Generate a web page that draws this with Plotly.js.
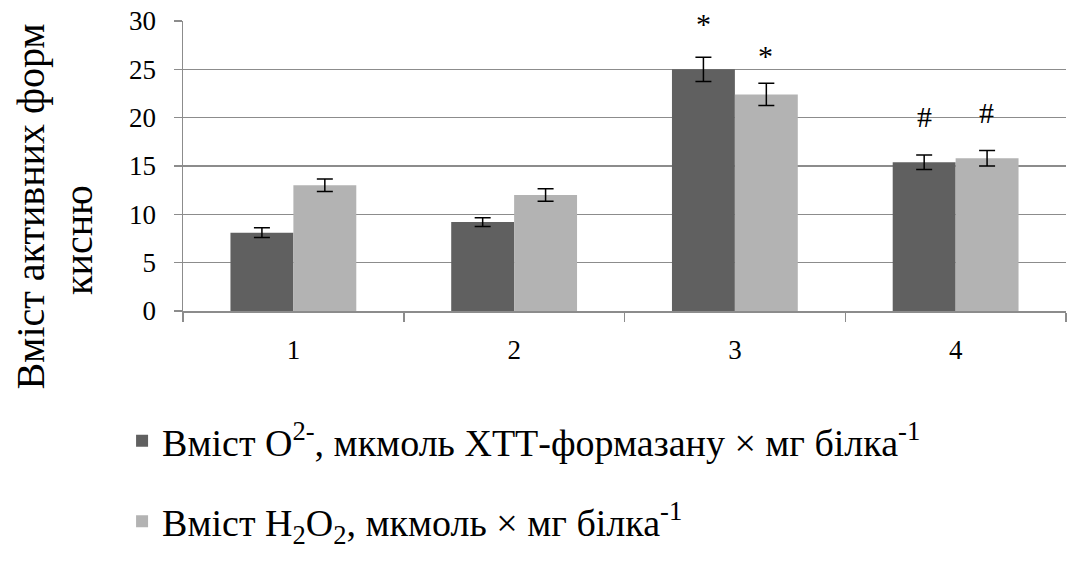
<!DOCTYPE html>
<html>
<head>
<meta charset="utf-8">
<script src="https://cdn.plot.ly/plotly-3.0.1.min.js"></script>
</head>
<body style="margin:0;background:#fff">
<div id="chart" style="width:1067px;height:570px"></div>
<script>
const categories = ['1', '2', '3', '4'];
const o2Values = [8.1, 9.2, 25.0, 15.4];
const o2Errors = [0.5, 0.45, 1.25, 0.75];
const h2o2Values = [13.0, 12.0, 22.4, 15.8];
const h2o2Errors = [0.65, 0.65, 1.15, 0.8];
const o2Marks = ['', '', '*', '#'];
const h2o2Marks = ['', '', '*', '#'];
const seriesNames = [
  'Вміст O<sup>2-</sup>, мкмоль ХТТ-формазану × мг білка<sup>-1</sup>',
  'Вміст H<sub>2</sub>O<sub>2</sub>, мкмоль × мг білка<sup>-1</sup>'
];
const yTitleLine1 = 'Вміст активних форм';
const yTitleLine2 = 'кисню';

const FONT = 'Liberation Serif';

const traces = [
  {
    type: 'bar', x: categories, y: o2Values, name: seriesNames[0],
    marker: {color: '#606060'},
    error_y: {type: 'data', array: o2Errors, visible: true, color: '#000', thickness: 1.5, width: 8},
    legendgroup: 'a'
  },
  {
    type: 'bar', x: categories, y: h2o2Values, name: seriesNames[1],
    marker: {color: '#b3b3b3'},
    error_y: {type: 'data', array: h2o2Errors, visible: true, color: '#000', thickness: 1.5, width: 8},
    legendgroup: 'b'
  }
];

const annotations = [];
function addMarks(marks, vals, errs, shift, starLift) {
  marks.forEach((m, i) => {
    if (!m) return;
    annotations.push({
      x: i, y: vals[i] + errs[i], xref: 'x', yref: 'y',
      text: m, showarrow: false, xshift: shift, yshift: m === '*' ? starLift : 38,
      yanchor: 'middle',
      font: {family: FONT, size: 30, color: '#000'}
    });
  });
}
addMarks(o2Marks, o2Values, o2Errors, -31, 34);
addMarks(h2o2Marks, h2o2Values, h2o2Errors, 31, 28);

annotations.push({
  xref: 'paper', yref: 'paper', x: 0, y: 0.36, xshift: -152, xanchor: 'center', yanchor: 'middle',
  text: yTitleLine1, textangle: -90, showarrow: false,
  font: {family: FONT, size: 40, color: '#000'}
});
annotations.push({
  xref: 'paper', yref: 'paper', x: 0, y: 0.245, xshift: -104, xanchor: 'center', yanchor: 'middle',
  text: yTitleLine2, textangle: -90, showarrow: false,
  font: {family: FONT, size: 40, color: '#000'}
});

const layout = {
  width: 1067, height: 570,
  margin: {l: 183, r: 1, t: 21, b: 259},
  paper_bgcolor: '#fff', plot_bgcolor: '#fff',
  barmode: 'group', bargap: 0.43, bargroupgap: 0,
  xaxis: {
    type: 'category', range: [-0.5, 3.5],
    showline: true, linecolor: '#8c8c8c', linewidth: 1.5,
    ticks: 'outside', tickson: 'boundaries', ticklen: 9, tickcolor: '#8c8c8c', tickwidth: 1.5,
    tickfont: {family: FONT, size: 27, color: '#000'},
    showgrid: false, zeroline: false, ticklabelstandoff: 14
  },
  yaxis: {
    range: [0, 30], dtick: 5, tick0: 0,
    showline: true, linecolor: '#8c8c8c', linewidth: 1.5,
    ticks: 'outside', ticklen: 8, tickcolor: '#8c8c8c', tickwidth: 1.5,
    tickfont: {family: FONT, size: 27, color: '#000'},
    showgrid: true, gridcolor: '#8c8c8c', gridwidth: 1.5,
    zeroline: false, ticklabelstandoff: 12
  },
  showlegend: true,
  legend: {
    x: -0.069, y: -0.34, xanchor: 'left', yanchor: 'top',
    orientation: 'v', traceorder: 'grouped', tracegroupgap: 28,
    font: {family: FONT, size: 38, color: '#000'},
    bgcolor: 'rgba(0,0,0,0)'
  },
  annotations: annotations
};

Plotly.newPlot('chart', traces, layout, {displayModeBar: false, staticPlot: true});
</script>
</body>
</html>
